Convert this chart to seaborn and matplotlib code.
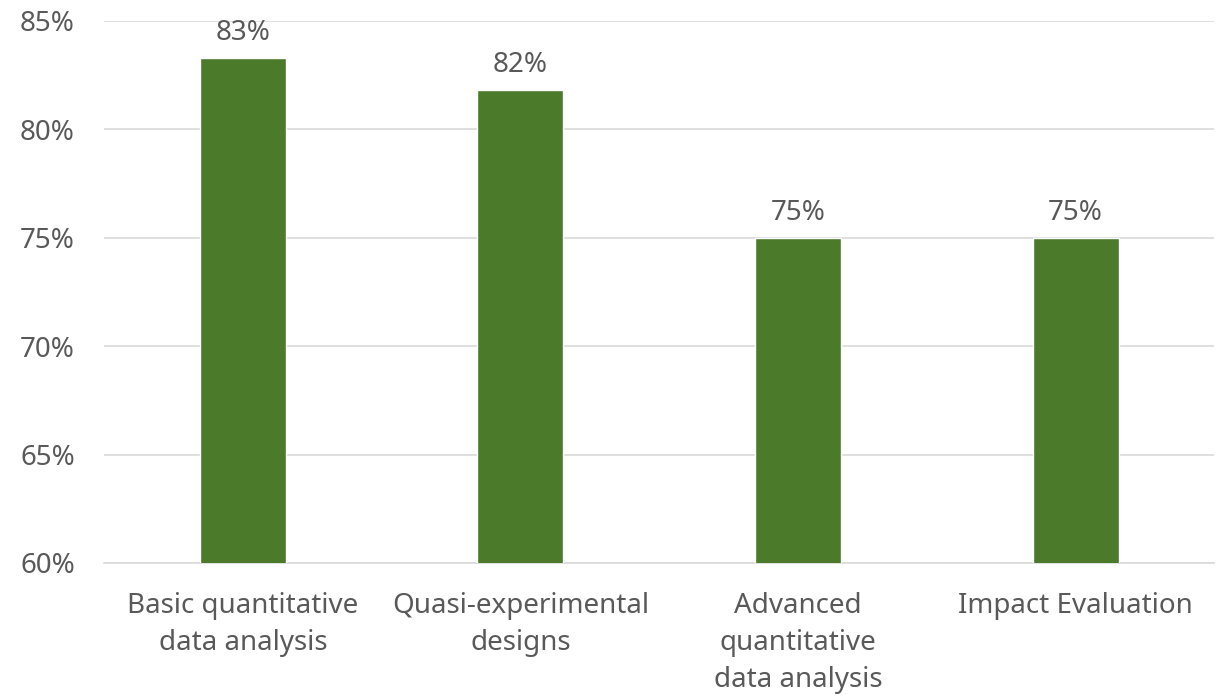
import matplotlib.pyplot as plt
import seaborn as sns
import pandas as pd
from matplotlib.ticker import PercentFormatter

categories = ['Basic quantitative\ndata analysis', 'Quasi-experimental\ndesigns',
              'Advanced\nquantitative\ndata analysis', 'Impact Evaluation']
values = [83.3, 81.8, 75.0, 75.0]
labels = ['83%', '82%', '75%', '75%']

df = pd.DataFrame({'category': categories, 'value': values})

sns.set_style('white')
plt.rcParams['font.family'] = ['Noto Sans', 'DejaVu Sans']
text_color = '#595959'

fig = plt.figure(figsize=(12.27, 6.95), dpi=100)
ax = fig.add_axes([0.0848, 0.19, 0.905, 0.78])

sns.barplot(data=df, x='category', y='value', color='#4A7A2A', width=0.31,
            saturation=1, ax=ax, zorder=3)

ax.set_ylim(60, 85)
ax.set_xlim(-0.5, 3.5)
ax.set_yticks([60, 65, 70, 75, 80, 85])
ax.yaxis.set_major_formatter(PercentFormatter(decimals=0))
ax.grid(axis='y', color='#D9D9D9', linewidth=1.2, zorder=0)
for s in ['top', 'right', 'left']:
    ax.spines[s].set_visible(False)
ax.spines['bottom'].set_color('#D9D9D9')
ax.spines['bottom'].set_linewidth(1.2)

ax.tick_params(axis='y', length=0, pad=21, labelsize=20, labelcolor=text_color)
ax.tick_params(axis='x', length=0, pad=21, labelsize=20, labelcolor=text_color)
for t in ax.get_xticklabels():
    t.set_linespacing(1.42)
ax.set_xlabel('')
ax.set_ylabel('')

for i, (v, lab) in enumerate(zip(values, labels)):
    ax.annotate(lab, (i, v), xytext=(0, 8), textcoords='offset points',
                ha='center', va='bottom', fontsize=20, color=text_color)

fig.savefig('out.png', dpi=100)
